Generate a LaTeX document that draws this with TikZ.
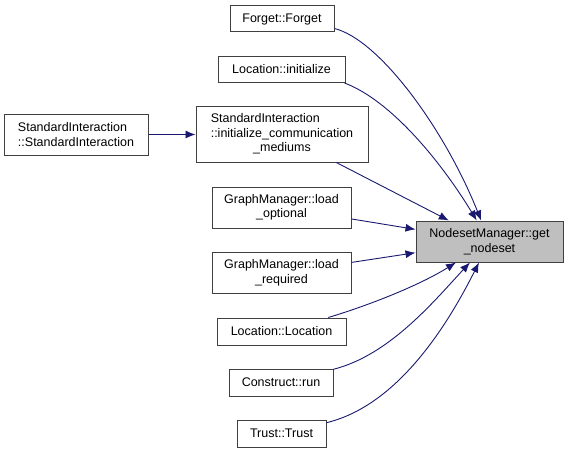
\documentclass[tikz,border=0pt]{standalone}
\usepackage{fontspec}
\setmainfont{Liberation Sans}
\usetikzlibrary{arrows.meta}

\definecolor{callblue}{RGB}{25,25,112}
\definecolor{boxgray}{RGB}{64,64,64}
\definecolor{targetgray}{RGB}{191,191,191}

\begin{document}
\begin{tikzpicture}[x = 1pt, y = -1pt]
\tikzstyle{FuncStyle} = [shape = rectangle, draw = boxgray, line width = 1pt, fill = white, inner sep = 0pt, align = center, font = \fontsize{12.5}{14.5}\selectfont]
\tikzstyle{TargetStyle} = [FuncStyle, fill = targetgray]
\tikzstyle{CallStyle} = [draw = callblue, line width = 0.9pt, -{Latex[length = 10pt, width = 8pt]}]
\useasboundingbox (0,0) rectangle (568,452);
\node[TargetStyle, minimum width = 147, minimum height = 41] (getnodeset) at (489.5,241.5) {NodesetManager::get\\\_nodeset};
\node[FuncStyle, minimum width = 104, minimum height = 26] (forget) at (282,19) {Forget::Forget};
\node[FuncStyle, minimum width = 127, minimum height = 26] (locinit) at (281.5,69.5) {Location::initialize};
\node[FuncStyle, minimum width = 172, minimum height = 55] (siinit) at (282,134.5) {\begin{tabular}{@{}l@{}}StandardInteraction\\::initialize\_communication\\\multicolumn{1}{@{}c@{}}{\_mediums}\end{tabular}};
\node[FuncStyle, minimum width = 144, minimum height = 41, align = left] (sictor) at (76,134.5) {StandardInteraction\\::StandardInteraction};
\node[FuncStyle, minimum width = 139, minimum height = 41] (loadopt) at (281.5,207.5) {GraphManager::load\\\_optional};
\node[FuncStyle, minimum width = 139, minimum height = 41] (loadreq) at (281.5,273) {GraphManager::load\\\_required};
\node[FuncStyle, minimum width = 129, minimum height = 27] (locctor) at (281.5,331.5) {Location::Location};
\node[FuncStyle, minimum width = 104, minimum height = 27] (construct) at (281,382.5) {Construct::run};
\node[FuncStyle, minimum width = 89, minimum height = 27] (trust) at (281.5,433.5) {Trust::Trust};
\draw[CallStyle] ([yshift = 4pt]forget.south east) .. controls (380,40) and (445,130) .. (getnodeset);
\draw[CallStyle] ([xshift = -1pt]locinit.south east) .. controls (390,100) and (440,160) .. (getnodeset);
\draw[CallStyle] (siinit) -- (getnodeset);
\draw[CallStyle] (sictor) -- (siinit);
\draw[CallStyle] (loadopt) -- (getnodeset);
\draw[CallStyle] (loadreq) -- (getnodeset);
\draw[CallStyle] (locctor) .. controls (370,305) and (420,285) .. (getnodeset);
\draw[CallStyle] (construct) .. controls (390,355) and (435,300) .. (getnodeset);
\draw[CallStyle] (trust) .. controls (400,405) and (450,320) .. (getnodeset);
\end{tikzpicture}
\end{document}
